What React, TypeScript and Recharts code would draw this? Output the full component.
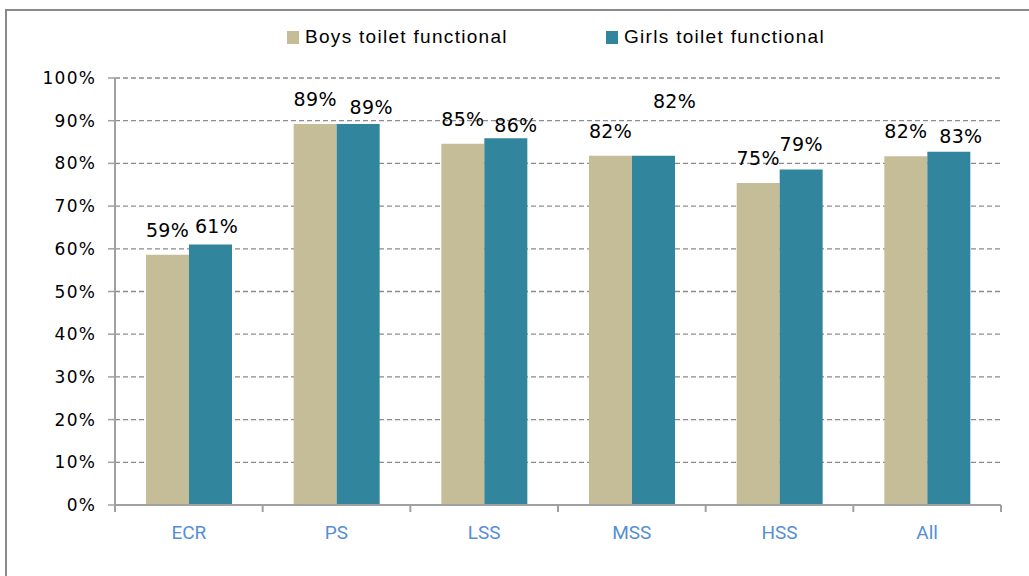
import { BarChart, Bar, XAxis, YAxis, CartesianGrid, LabelList } from 'recharts'

// ── data ──────────────────────────────────────────────
const categories = ['ECR', 'PS', 'LSS', 'MSS', 'HSS', 'All']
const boysFunctional = [58.6, 89.2, 84.6, 81.8, 75.4, 81.7]
const girlsFunctional = [61.0, 89.2, 85.9, 81.8, 78.6, 82.7]
const yTicks = [0, 10, 20, 30, 40, 50, 60, 70, 80, 90, 100]

const BOYS_COLOR = '#C4BD97'
const GIRLS_COLOR = '#31859C'
const GRID = '#8C8C8C'
const AXIS = '#A0A0A0'

const data = categories.map((name, i) => ({
  name,
  boys: boysFunctional[i],
  girls: girlsFunctional[i],
}))

// value labels; girls labels were nudged by hand in the original
function makeLabel(shift: Record<number, [number, number]>) {
  // eslint-disable-next-line @typescript-eslint/no-explicit-any
  return (props: any) => {
    const { x, y, width, value, index } = props
    const [dx, dy] = shift[index] ?? [0, 0]
    return (
      <text
        x={x + width / 2 + dx}
        y={y - 18 + dy}
        textAnchor="middle"
        fontFamily="DejaVu Sans, Verdana, sans-serif"
        fontSize={19}
        letterSpacing={0.3}
        fill="#000"
      >
        {Math.round(value)}%
      </text>
    )
  }
}

// eslint-disable-next-line @typescript-eslint/no-explicit-any
function CategoryTick(props: any) {
  const { x, y, payload, index, visibleTicksCount } = props
  const half = payload?.offset ?? 73.5
  return (
    <g>
      <line x1={x - half} y1={y - 8} x2={x - half} y2={y - 1} stroke={AXIS} strokeWidth={2} />
      {index === visibleTicksCount - 1 && (
        <line x1={x + half} y1={y - 8} x2={x + half} y2={y - 1} stroke={AXIS} strokeWidth={2} />
      )}
      <text
        x={x}
        y={y + 26}
        textAnchor="middle"
        fontFamily="Roboto, Arial, sans-serif"
        fontSize={19}
        fill="#558ED5"
      >
        {payload.value}
      </text>
    </g>
  )
}

const legendItems = [
  { label: 'Boys toilet functional', color: BOYS_COLOR, left: 280 },
  { label: 'Girls toilet functional', color: GIRLS_COLOR, left: 599 },
]

export default function App() {
  return (
    <div
      style={{
        position: 'absolute',
        left: 5,
        top: 9,
        width: 1030,
        height: 580,
        border: '2px solid #8A8A8A',
        background: '#fff',
      }}
    >
      {/* 凡例 */}
      {legendItems.map((l) => (
        <div
          key={l.label}
          style={{
            position: 'absolute',
            top: 15,
            left: l.left,
            display: 'flex',
            alignItems: 'center',
            gap: 6,
            fontFamily: 'Liberation Sans, Arial, sans-serif',
            fontSize: 19,
            letterSpacing: 1.3,
            color: '#000',
            whiteSpace: 'nowrap',
          }}
        >
          <span style={{ width: 12, height: 13, background: l.color, display: 'inline-block' }} />
          {l.label}
        </div>
      ))}

      <BarChart
        width={1024}
        height={565}
        data={data}
        margin={{ top: 67, right: 30, left: 0, bottom: 0 }}
        barGap={0}
        barSize={43}
      >
        <CartesianGrid
          vertical={false}
          stroke={GRID}
          strokeDasharray="5 3"
          strokeWidth={1.3}
        />
        <YAxis
          width={108}
          domain={[0, 100]}
          ticks={yTicks}
          interval={0}
          tickFormatter={(v) => `${v}%`}
          tick={{ fill: '#000', fontSize: 17, fontFamily: 'DejaVu Sans, Verdana, sans-serif', letterSpacing: 1.2 }}
          tickSize={7}
          tickMargin={12}
          tickLine={{ stroke: AXIS, strokeWidth: 1.5 }}
          axisLine={{ stroke: AXIS, strokeWidth: 2 }}
        />
        <XAxis
          dataKey="name"
          interval={0}
          tickLine={false}
          axisLine={{ stroke: AXIS, strokeWidth: 2 }}
          tick={<CategoryTick />}
          height={71}
        />
        <Bar dataKey="boys" fill={BOYS_COLOR} isAnimationActive={false}>
          <LabelList dataKey="boys" content={makeLabel({})} />
        </Bar>
        <Bar dataKey="girls" fill={GIRLS_COLOR} isAnimationActive={false}>
          <LabelList
            dataKey="girls"
            content={makeLabel({ 0: [6, 6], 1: [13, 8], 2: [10, 12], 3: [21, -30], 5: [12, 9] })}
          />
        </Bar>
      </BarChart>
    </div>
  )
}
